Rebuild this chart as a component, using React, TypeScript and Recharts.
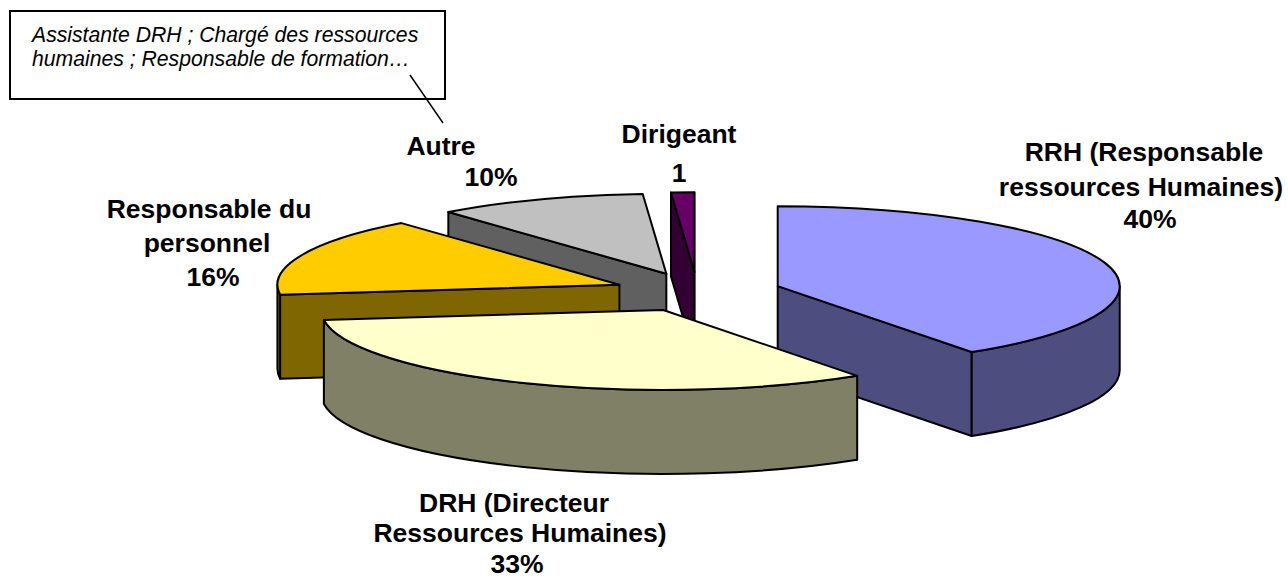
import { Pie, PieChart } from 'recharts'

// slices run counter-clockwise; the front slice (DRH) comes last so it is painted on top
const names = ['RRH', 'Dirigeant', 'Autre', 'Responsable du personnel', 'DRH']
const values = [40.4, 1.1, 9.9, 16, 32.6]
const topColors = ['#9999FF', '#660066', '#C0C0C0', '#FFCC00', '#FFFFCC']
const wallColors = ['#4D4D80', '#330033', '#606060', '#806600', '#808066']

const labelLines = [
  [
    { text: 'RRH (Responsable', x: 1144, y: 161 },
    { text: 'ressources Humaines)', x: 1141, y: 196 },
    { text: '40%', x: 1150, y: 228 },
  ],
  [
    { text: 'Dirigeant', x: 679, y: 143 },
    { text: '1', x: 679, y: 182 },
  ],
  [
    { text: 'Autre', x: 441, y: 155 },
    { text: '10%', x: 491, y: 186 },
  ],
  [
    { text: 'Responsable du', x: 209, y: 218 },
    { text: 'personnel', x: 207, y: 252 },
    { text: '16%', x: 213, y: 286 },
  ],
  [
    { text: 'DRH (Directeur', x: 514, y: 512 },
    { text: 'Ressources Humaines)', x: 520, y: 542 },
    { text: '33%', x: 517, y: 572.5 },
  ],
]

const calloutLines = ['Assistante DRH ; Chargé des ressources', 'humaines ; Responsable de formation…']

const chartData = names.map((name, i) => ({
  name,
  value: values[i],
  fill: topColors[i],
  wall: wallColors[i],
}))

// first slice ends at 12 o'clock
const START_ANGLE = 90 - (360 * values[0]) / 100

const TILT = 0.234
const EXPLODE = 0.2456
const DEPTH = 84
const RAD = Math.PI / 180

function Slice3D(props: any) {
  const { cx, cy, startAngle, endAngle, outerRadius, fill, wall } = props
  const rx = outerRadius
  const ry = outerRadius * TILT
  let a1 = Math.min(startAngle, endAngle)
  let a2 = Math.max(startAngle, endAngle)
  if (a1 < 0) {
    a1 += 360
    a2 += 360
  }
  const mid = (a1 + a2) / 2
  const ox = cx + EXPLODE * rx * Math.cos(mid * RAD)
  const oy = cy - EXPLODE * ry * Math.sin(mid * RAD)
  const rim = (a: number) => ({
    x: ox + rx * Math.cos(a * RAD),
    y: oy - ry * Math.sin(a * RAD),
  })

  const p1 = rim(a1)
  const p2 = rim(a2)
  const pm = rim(mid)
  const large = a2 - a1 > 180 ? 1 : 0
  const top = `M${ox},${oy} L${p1.x},${p1.y} A${rx},${ry} 0 ${large} 0 ${p2.x},${p2.y} Z`

  // a radial wall shows only if the slice top lies above its edge
  const sideWall = (p: { x: number; y: number }) => {
    const dx = p.x - ox
    const dy = p.y - oy
    const side = dx * (pm.y - oy) - dy * (pm.x - ox)
    if (side * dx >= 0) return null
    return (
      <path
        d={`M${ox},${oy} L${p.x},${p.y} L${p.x},${p.y + DEPTH} L${ox},${oy + DEPTH} Z`}
        fill={wall}
        stroke="#000"
        strokeWidth={2}
        strokeLinejoin="round"
      />
    )
  }

  const lo = Math.max(a1, 180)
  const hi = Math.min(a2, 360)
  let outer = null
  if (lo < hi) {
    const a = rim(lo)
    const b = rim(hi)
    outer = (
      <path
        d={`M${a.x},${a.y} A${rx},${ry} 0 0 0 ${b.x},${b.y} L${b.x},${b.y + DEPTH} A${rx},${ry} 0 0 1 ${a.x},${a.y + DEPTH} Z`}
        fill={wall}
        stroke="#000"
        strokeWidth={2}
        strokeLinejoin="round"
      />
    )
  }

  return (
    <g>
      {sideWall(p1)}
      {sideWall(p2)}
      {outer}
      <path d={top} fill={fill} stroke="#000" strokeWidth={2} strokeLinejoin="round" />
    </g>
  )
}

function SliceLabel({ index }: any) {
  return (
    <g>
      {labelLines[index].map((line) => (
        <text
          key={line.text}
          x={line.x}
          y={line.y}
          textAnchor="middle"
          fontFamily="Liberation Sans"
          fontSize={26.5}
          fontWeight="bold"
          fill="#000"
        >
          {line.text}
        </text>
      ))}
    </g>
  )
}

export default function App() {
  return (
    <div style={{ position: 'absolute', left: 0, top: 0, width: 1288, height: 578, background: '#fff' }}>
      <PieChart width={1288} height={578} margin={{ top: 0, right: 0, bottom: 0, left: 0 }}>
        <Pie
          data={chartData}
          dataKey="value"
          nameKey="name"
          cx={697.5}
          cy={292}
          outerRadius={342}
          startAngle={START_ANGLE}
          endAngle={START_ANGLE + 360}
          paddingAngle={0}
          shape={Slice3D}
          label={SliceLabel}
          labelLine={false}
          isAnimationActive={false}
        />
        <rect x={10} y={11} width={435} height={88} fill="#fff" stroke="#000" strokeWidth={2} />
        {calloutLines.map((line, i) => (
          <text
            key={line}
            x={32}
            y={42 + i * 24}
            fontFamily="Liberation Sans"
            fontSize={21.2}
            fontStyle="italic"
            fill="#000"
          >
            {line}
          </text>
        ))}
        <line x1={410} y1={75} x2={443} y2={123} stroke="#000" strokeWidth={1.5} />
      </PieChart>
    </div>
  )
}
